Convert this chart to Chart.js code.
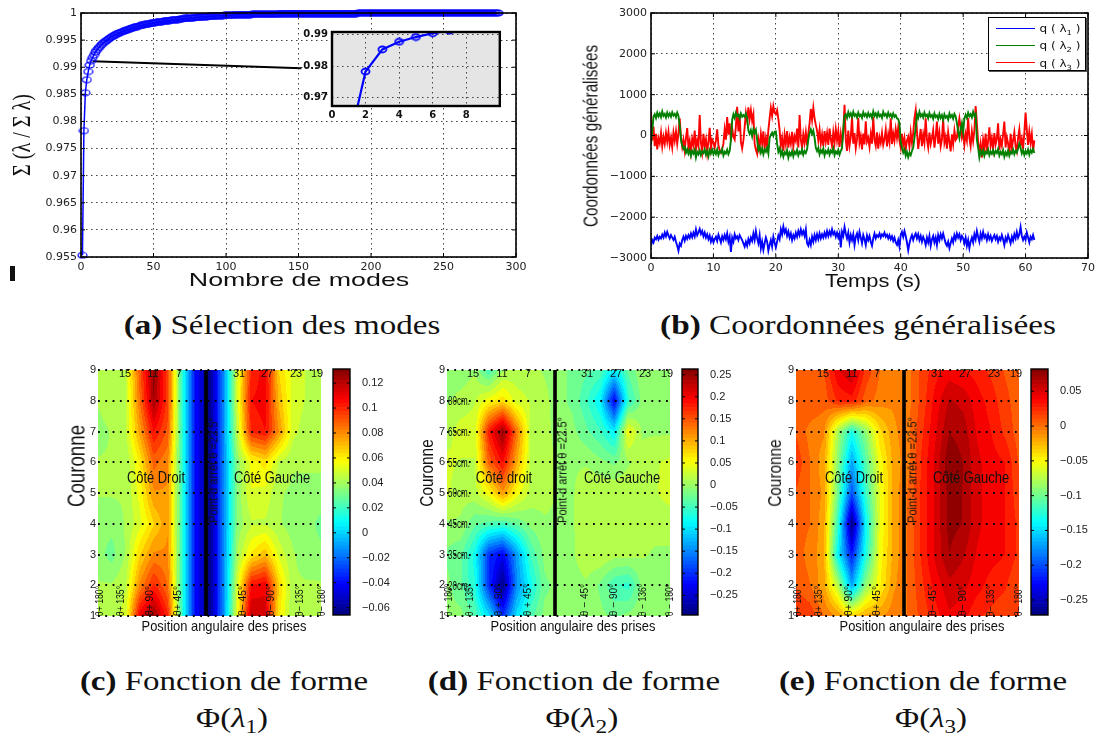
<!DOCTYPE html>
<html><head><meta charset="utf-8">
<style>html,body{margin:0;padding:0;background:#fff;width:1099px;height:737px;overflow:hidden}
canvas{position:absolute;display:block}
.t{position:absolute;white-space:nowrap;line-height:1;color:#111;z-index:5;transform-origin:center center}
.t sub{font-size:.7em;line-height:0}
</style>
<script src="https://cdn.jsdelivr.net/npm/chart.js@4/dist/chart.umd.min.js"></script>
</head><body>
<script>
// ---------- DATA ----------
const cumulativeEnergy=[
.9553,.9783,.9853,.9877,.9892,.9904,.9912,.9918,.9923,.9928,
.9932,.9935,.9938,.9941,.9944,.9946,.9948,.9950,.9952,.9954,
.9956,.9957,.9959,.9960,.9962,.9963,.9964,.9965,.9966,.9967,
.9968,.9969,.9970,.9971,.9972,.9973,.9974,.9975,.9975,.9976,
.9977,.9977,.9978,.9979,.9979,.9980,.9980,.9981,.9981,.9982,
.9982,.9983,.9983,.9984,.9984,.9984,.9985,.9985,.9986,.9986,
.9986,.9987,.9987,.9987,.9988,.9988,.9988,.9989,.9989,.9989,
.9990,.9990,.9990,.9990,.9991,.9991,.9991,.9991,.9992,.9992,
.9992,.9992,.9993,.9993,.9993,.9993,.9993,.9994,.9994,.9994,
.9994,.9994,.9995,.9995,.9995,.9995,.9995,.9995,.9996,.9996,
.9996,.9996,.9996,.9996,.9996,.9997,.9997,.9997,.9997,.9997,
.9997,.9997,.9997,.9997,.9997,.9997,.9997,.9998,.9998,.9998,
.9998,.9998,.9998,.9998,.9998,.9998,.9998,.9998,.9998,.9998,
.9998,.9998,.9998,.9998,.9998,.9998,.9999,.9999,.9999,.9999,
.9999,.9999,.9999,.9999,.9999,.9999,.9999,.9999,.9999,.9999,
.9999,.9999,.9999,.9999,.9999,.9999,.9999,.9999,.9999,.9999,
.9999,.9999,.9999,.9999,.9999,.9999,.9999,.9999,.9999,.9999,
.9999,.9999,.9999,.9999,.9999,.9999,.9999,.9999,.9999,.9999,
.9999,.9999,.9999,.9999,.9999,.9999,.9999,.9999,.9999,.9999,
1,1,1,1,1,1,1,1,1,1,1,1,1,1,1,1,1,1,1,1,
1,1,1,1,1,1,1,1,1,1,1,1,1,1,1,1,1,1,1,1,
1,1,1,1,1,1,1,1,1,1,1,1,1,1,1,1,1,1,1,1,
1,1,1,1,1,1,1,1,1,1,1,1,1,1,1,1,1,1,1,1,
1,1,1,1,1,1,1,1,1,1,1,1,1,1,1,1,1,1];
const leaderModes=[8,152];
const leaderValues=[.9911,.9898];
const aTicksX=[0,50,100,150,200,250,300];
const aTicksY=[.955,.96,.965,.97,.975,.98,.985,.99,.995,1];
const insetTicksX=[0,2,4,6,8];
const insetTicksY=[.97,.98,.99];

const timeStep=0.2;
const qLambda1=[
-2700,-2560,-2620,-2500,-2540,-2460,-2550,-2480,-2520,-2430,-2500,-2380,-2470,-2360,-2450,-2520,-2440,-2500,-2560,-2480,-2600,-2700,-2820,-2650,-2700,
-2560,-2480,-2580,-2460,-2530,-2440,-2510,-2400,-2490,-2380,-2470,-2300,-2440,-2370,-2290,-2410,-2340,-2470,-2380,-2500,-2420,-2540,-2450,-2600,-2500,
-2620,-2540,-2480,-2580,-2430,-2520,-2620,-2470,-2560,-2440,-2540,-2400,-2600,-2480,-2850,-2500,-2600,-2420,-2520,-2470,-2560,-2440,-2500,-2560,-2640,
-2720,-2600,-2700,-2540,-2640,-2500,-2580,-2400,-2560,-2340,-2520,-2640,-2440,-2760,-2600,-2800,-2640,-2500,-2600,-2820,-2680,-2560,-2720,-2480,-2620,
-2740,-2600,-2450,-2540,-2300,-2420,-2230,-2380,-2300,-2460,-2350,-2500,-2400,-2560,-2440,-2520,-2380,-2480,-2340,-2440,-2300,-2420,-2340,-2460,-2300,
-2640,-2700,-2560,-2680,-2480,-2600,-2440,-2560,-2420,-2540,-2400,-2520,-2420,-2500,-2380,-2480,-2340,-2460,-2350,-2440,-2300,-2420,-2360,-2480,-2380,
-2500,-2400,-2740,-2360,-2460,-2240,-2400,-2520,-2380,-2620,-2440,-2560,-2420,-2680,-2480,-2400,-2560,-2360,-2500,-2640,-2440,-2540,-2680,-2450,-2560,
-2460,-2600,-2700,-2520,-2400,-2520,-2440,-2480,-2400,-2500,-2420,-2460,-2380,-2480,-2430,-2520,-2440,-2540,-2470,-2580,-2500,-2620,-2680,-2560,-2720,
-2440,-2360,-2480,-2340,-2460,-2620,-2810,-2640,-2520,-2440,-2560,-2460,-2400,-2520,-2420,-2560,-2460,-2600,-2480,-2560,-2680,-2500,-2620,-2460,-2700,
-2540,-2460,-2620,-2500,-2680,-2440,-2560,-2420,-2520,-2400,-2520,-2640,-2700,-2600,-2760,-2640,-2520,-2620,-2440,-2540,-2400,-2500,-2420,-2560,-2460,
-2520,-2640,-2500,-2700,-2560,-2760,-2600,-2500,-2620,-2420,-2540,-2340,-2480,-2600,-2400,-2520,-2360,-2500,-2440,-2560,-2420,-2540,-2460,-2580,-2500,
-2440,-2540,-2460,-2600,-2500,-2560,-2440,-2540,-2680,-2500,-2580,-2440,-2540,-2640,-2480,-2580,-2420,-2520,-2360,-2500,-2420,-2240,-2460,-2560,-2480,
-2560,-2380,-2500,-2620,-2480,-2540,-2440,-2560];
const qLambda2=[
-200,120,460,520,430,560,470,540,450,590,480,530,440,560,470,540,460,570,490,530,450,560,480,250,-100,
-250,-330,-280,-420,-340,-450,-360,-500,-380,-440,-350,-540,-400,-460,-360,-480,-390,-430,-340,-470,-380,-510,-360,-440,-350,
-460,-370,-450,-340,-480,-390,-420,-330,-490,-400,-440,-350,-460,-380,-120,380,520,430,560,470,510,420,540,460,500,
460,540,430,120,40,130,-20,150,60,140,-100,-360,-280,-420,-320,-460,-340,-400,-300,-440,-60,20,70,-10,90,
100,-200,-400,-320,-480,-380,-520,-410,-460,-360,-540,-420,-480,-380,-510,-400,-450,-350,-490,-400,-440,-340,-470,-380,-430,
-340,-100,60,150,40,120,-50,-300,-380,-300,-460,-360,-420,-320,-490,-380,-430,-340,-470,-370,-420,-310,-480,-390,-440,
-350,-470,-380,-300,150,480,520,430,570,470,540,450,580,480,520,440,560,470,510,430,570,480,530,450,550,
470,520,430,590,480,540,450,560,470,510,430,580,490,530,450,560,470,520,440,540,460,500,420,400,300,
-150,-300,-420,-340,-500,-400,-530,-420,-480,-380,-300,-60,200,520,430,580,470,520,440,560,470,510,420,550,460,
500,410,540,450,490,400,530,430,500,380,520,440,480,390,540,450,500,410,530,470,300,100,-60,150,300,
80,420,510,430,560,470,520,440,580,480,530,-100,-300,-540,-380,-460,-360,-500,-400,-440,-340,-480,-390,-450,-360,
-470,-380,-430,-330,-490,-400,-460,-360,-520,-410,-480,-370,-500,-400,-440,-340,-460,-380,-420,-320,-200,-300,-440,-360,-480,
-380,-440,-340,-470,-360,-420,-330,-430];
const qLambda3=[
580,-120,220,-260,40,-340,-70,-190,70,-270,-30,-200,60,-150,90,-230,-50,-290,70,-130,100,-200,60,420,-50,
-280,-100,-360,-60,180,-300,-130,-400,-80,-230,120,-340,-120,-260,500,-180,-400,40,-260,-90,-420,-150,190,-310,-100,
-170,-300,-120,150,-240,-360,-420,-330,-200,150,-100,450,20,300,-130,180,-30,-100,230,700,100,520,-150,-320,-120,
200,550,350,690,400,620,360,520,-200,-350,-450,-100,-300,40,-200,100,-330,-60,-250,130,420,680,480,720,560,
520,620,410,130,-250,-60,-380,20,-210,110,-300,-40,-200,90,-270,-20,-130,170,-290,500,-100,-310,30,-180,80,
-240,60,300,650,380,680,420,260,120,-120,140,-200,20,-260,110,-150,60,-230,170,-90,-260,80,-180,150,-120,
110,-280,40,-200,70,750,-100,-380,120,-250,-40,460,-200,60,-310,-90,430,-180,-20,-340,50,-220,350,-150,-60,
-280,30,-200,450,-100,-250,80,-320,-40,-180,60,-230,-90,140,-270,30,-160,420,-210,50,-130,160,-60,200,-130,
-300,40,-240,-60,-350,-120,-30,-280,80,-180,60,420,620,100,-330,-90,160,-260,20,-180,420,-100,-290,70,-210,
-60,130,-300,-20,340,-200,60,-270,-100,400,-180,-30,-320,80,-150,-390,30,-210,120,-110,-60,230,420,180,-50,
90,-230,40,-120,430,-60,-260,100,-140,120,720,300,-160,-420,-200,-540,-100,-300,50,-380,-130,200,-260,-70,-320,
60,-220,-80,300,-350,-100,-250,30,340,-290,-40,-200,-460,40,-300,-120,80,-270,-390,-60,150,-230,-80,-330,60,
560,140,-230,100,-170,40,-400,-120];
const bTicksX=[0,10,20,30,40,50,60,70];
const bTicksY=[-3000,-2000,-1000,0,1000,2000,3000];
const seriesNames=['q ( λ<sub>1</sub> )','q ( λ<sub>2</sub> )','q ( λ<sub>3</sub> )'];
const seriesColors=['#0000ff','#008000','#ff0000'];

const couronneTicks=[1,2,3,4,5,6,7,8,9];
const stopColumn=7.75;
// rows from couronne 9 (top) down to couronne 1, 17 angular columns
const shapeLambda1=[
[.04,.04,.045,.09,.128,.095,.02,-.04,-.065,-.015,.05,.1,.108,.065,.05,.045,.04],
[.04,.045,.045,.085,.125,.095,.02,-.04,-.065,-.015,.05,.105,.108,.07,.05,.045,.04],
[.036,.04,.045,.075,.105,.09,.02,-.04,-.065,-.015,.045,.1,.105,.078,.048,.042,.04],
[.04,.04,.04,.06,.088,.08,.02,-.04,-.065,-.015,.035,.055,.062,.045,.04,.04,.04],
[.04,.04,.04,.055,.078,.078,.02,-.04,-.065,-.015,.035,.052,.05,.04,.038,.038,.038],
[.035,.035,.04,.05,.065,.078,.02,-.04,-.065,-.015,.035,.045,.045,.04,.036,.036,.03],
[.035,.03,.04,.065,.08,.08,.02,-.04,-.065,-.015,.04,.06,.07,.05,.04,.036,.035],
[.04,.04,.045,.08,.1,.085,.02,-.04,-.065,-.015,.05,.105,.11,.065,.04,.04,.04],
[.04,.04,.05,.11,.128,.1,.02,-.04,-.065,-.015,.055,.12,.115,.06,.04,.04,.04]];
const shapeLambda2=[
[-.01,-.01,0,-.05,0,.01,.01,0,-.01,-.02,-.03,-.04,-.09,-.03,0,0,0],
[0,.01,.02,.05,.07,.03,.02,.01,-.01,-.02,-.05,-.09,-.23,-.06,-.01,0,0],
[.015,.03,.03,.18,.255,.13,.02,.01,-.005,-.01,-.03,-.05,-.09,.05,0,0,0],
[.025,.02,.02,.14,.19,.1,.02,.01,0,0,0,-.01,-.02,0,.01,.02,.025],
[.025,.01,.015,.05,.11,.05,.015,.01,0,0,.02,.02,.02,.02,.02,.02,.03],
[0,0,-.03,-.04,-.05,-.03,-.01,0,0,0,.02,.02,.02,.015,.01,.01,.01],
[-.02,-.03,-.08,-.2,-.23,-.14,-.05,-.01,0,0,.015,.02,.01,.01,.005,0,0],
[-.01,-.03,-.07,-.2,-.29,-.15,-.08,-.02,-.01,-.005,0,-.02,-.05,-.06,-.01,0,0],
[-.01,-.01,-.04,-.1,-.2,-.1,-.04,-.01,-.01,0,0,-.01,-.02,-.01,0,0,0]];
const shapeLambda3=[
[.005,.01,.01,.045,.06,.02,0,-.01,-.005,.015,.03,.04,.035,.03,.02,.01,.005],
[.01,.01,.005,.025,.03,.005,-.005,-.01,-.005,.015,.04,.06,.055,.04,.03,.015,.005],
[.01,-.005,-.01,-.08,-.13,-.09,-.04,-.015,-.005,.02,.045,.07,.065,.045,.035,.02,.005],
[.02,0,-.02,-.09,-.17,-.11,-.055,-.02,-.005,.025,.05,.08,.07,.05,.04,.035,.01],
[.01,0,-.015,-.1,-.2,-.12,-.06,-.02,0,.025,.05,.075,.07,.05,.04,.035,.015],
[.005,0,-.02,-.12,-.27,-.14,-.06,-.02,0,.025,.05,.075,.07,.05,.04,.035,.02],
[.005,-.005,-.02,-.14,-.22,-.13,-.055,-.02,0,.025,.05,.07,.06,.045,.04,.035,.02],
[.01,0,-.02,-.075,-.17,-.09,-.05,-.015,0,.02,.04,.055,.05,.04,.03,.025,.01],
[.025,.02,0,-.015,-.035,-.02,-.015,-.005,0,.015,.03,.045,.04,.025,.02,.015,.015]];
const rangeLambda1=[-.0659,.1313];
const rangeLambda2=[-.2946,.263];
const rangeLambda3=[-.2716,.0821];
const cbTicks1=[-.06,-.04,-.02,0,.02,.04,.06,.08,.1,.12];
const cbTicks2=[-.25,-.2,-.15,-.1,-.05,0,.05,.1,.15,.2,.25];
const cbTicks3=[-.25,-.2,-.15,-.1,-.05,0,.05];
const sensorLabels=['15','11','7','31','27','23','19'];
const depthLabels=['80cm.','65cm.','55cm.','50cm.','45cm.','35cm.','20cm.'];

// ---------- HELPERS ----------
Chart.defaults.animation=false;
Chart.defaults.responsive=false;
Chart.defaults.plugins.legend.display=false;
Chart.defaults.plugins.tooltip.enabled=false;
const WIDE='"DejaVu Sans"', NARROW='"Liberation Sans Narrow","Liberation Sans"', SANS='"Liberation Sans"', SERIF='"Liberation Serif"';
function clamp(v){return Math.max(0,Math.min(1,v));}
function jet(t){return [clamp(1.5-Math.abs(4*t-3)),clamp(1.5-Math.abs(4*t-2)),clamp(1.5-Math.abs(4*t-1))].map(v=>Math.round(v*255));}
function fmt(v){return String(+v.toFixed(4)).replace('-','−');}
function setTicks(list){return a=>{a.ticks=list.map(v=>({value:v}));};}
function fit(px){return s=>{if(s.isHorizontal())s.height=px;else s.width=px;};}
function place(plot,m){
  const c=document.createElement('canvas');
  const w=plot.r-plot.l+m.l+m.r,h=plot.b-plot.t+m.t+m.b;
  c.width=w;c.height=h;c.style.left=(plot.l-m.l)+'px';c.style.top=(plot.t-m.t)+'px';c.style.width=w+'px';c.style.height=h+'px';
  document.body.appendChild(c);return c;
}
function label(html,cx,cy,o){
  const d=document.createElement('div');d.className='t';d.innerHTML=html;
  d.style.font=o.font;d.style.left=cx+'px';d.style.top=cy+'px';if(o.color)d.style.color=o.color;
  document.body.appendChild(d);
  const k=o.w?o.w/d.offsetWidth:1;
  d.style.transform='translate(-50%,-50%) rotate('+(o.rot||0)+'deg) scaleX('+k+')';
  return d;
}
function frame(lw,inner,bg){return {id:'frame',
  beforeDraw(ch){if(!bg)return;const a=ch.chartArea,x=ch.ctx;x.save();x.fillStyle=bg;x.fillRect(a.left,a.top,a.width,a.height);x.restore();},
  afterDraw(ch){const a=ch.chartArea,x=ch.ctx;x.save();x.strokeStyle='#000';x.lineWidth=lw;x.strokeRect(a.left,a.top,a.width,a.height);
    if(inner){x.lineWidth=1;x.beginPath();
      if(ch.scales.y)ch.scales.y.ticks.forEach(t=>{const p=ch.scales.y.getPixelForValue(t.value);x.moveTo(a.left,p);x.lineTo(a.left+inner,p);x.moveTo(a.right,p);x.lineTo(a.right-inner,p);});
      if(ch.scales.x&&ch.scales.x.type==='linear')ch.scales.x.ticks.forEach(t=>{const p=ch.scales.x.getPixelForValue(t.value);x.moveTo(p,a.top);x.lineTo(p,a.top+inner);x.moveTo(p,a.bottom);x.lineTo(p,a.bottom-inner);});
      x.stroke();}
    x.restore();}};}
function ring(w,h,lw,color){const c=document.createElement('canvas');c.width=w+lw*2;c.height=h+lw*2;const x=c.getContext('2d');
  x.strokeStyle=color;x.lineWidth=lw;x.beginPath();x.ellipse(c.width/2,c.height/2,w/2,h/2,0,0,Math.PI*2);x.stroke();return c;}
const dotted={color:'#444',lineWidth:1,drawTicks:false};
const dottedBorder={display:false,dash:[1.5,3.5]};

// ---------- (a) ----------
const modes=cumulativeEnergy.map((_,i)=>i+1);
const modePts=modes.map((m,i)=>({x:m,y:cumulativeEnergy[i]}));
new Chart(place({l:81,t:13,r:516,b:257},{l:81,t:13,r:24,b:28}),{type:'scatter',
 data:{datasets:[
  {label:'Σ(λ/Σλ)',data:modePts,showLine:true,borderColor:'#0000ff',borderWidth:1.5,pointStyle:ring(9,6,1.2,'#0000ff'),pointRadius:3,clip:false},
  {label:'zoom',data:leaderModes.map((m,i)=>({x:m,y:leaderValues[i]})),showLine:true,borderColor:'#000',borderWidth:2,pointRadius:0,clip:false}]},
 options:{layout:{padding:{top:13,right:24}},
  scales:{
   x:{type:'linear',min:0,max:300,afterBuildTicks:setTicks(aTicksX),afterFit:fit(28),grid:dotted,border:dottedBorder,
      ticks:{color:'#222',padding:4,maxRotation:0,autoSkip:false,font:{family:WIDE,size:11},callback:fmt}},
   y:{type:'linear',min:.955,max:1,afterBuildTicks:setTicks(aTicksY),afterFit:fit(81),grid:dotted,border:dottedBorder,
      ticks:{color:'#222',padding:4,autoSkip:false,font:{family:WIDE,size:11},callback:fmt}}}},
 plugins:[frame(1.6,4)]});
// inset
new Chart(place({l:332,t:32,r:500,b:106},{l:36,t:12,r:6,b:20}),{type:'scatter',
 data:{datasets:[{label:'zoom',data:modePts.slice(0,7),showLine:true,borderColor:'#0000ff',borderWidth:2.2,pointStyle:ring(8,6,1.8,'#0000ff'),pointRadius:3}]},
 options:{layout:{padding:{top:12,right:6}},
  scales:{
   x:{type:'linear',min:0,max:10,afterBuildTicks:setTicks(insetTicksX),afterFit:fit(20),grid:dotted,border:dottedBorder,
      ticks:{color:'#111',padding:3,maxRotation:0,autoSkip:false,font:{family:WIDE,size:10,weight:'bold'},callback:fmt}},
   y:{type:'linear',min:.9674,max:.9908,afterBuildTicks:setTicks(insetTicksY),afterFit:fit(36),grid:dotted,border:dottedBorder,
      ticks:{color:'#111',padding:4,autoSkip:false,font:{family:WIDE,size:10,weight:'bold'},callback:fmt}}}},
 plugins:[frame(2.4,0,'#e5e5e5')]});
label('Σ (λ / Σ λ)',22,135,{font:'25px "Liberation Serif"',rot:-90,w:82});
label('Nombre de modes',298.5,280,{font:'19px '+SANS,w:220});
const bar=document.createElement('div');bar.style.cssText='position:absolute;left:10px;top:266px;width:5px;height:15px;background:#111';document.body.appendChild(bar);

// ---------- (b) ----------
const toPts=a=>a.map((v,i)=>({x:i*timeStep,y:v}));
new Chart(place({l:651,t:13,r:1092,b:258},{l:60,t:13,r:7,b:28}),{type:'scatter',
 data:{datasets:[qLambda1,qLambda2,qLambda3].map((a,i)=>({label:'q'+(i+1),data:toPts(a),showLine:true,borderColor:seriesColors[i],borderWidth:1.9,pointRadius:0}))},
 options:{layout:{padding:{top:13,right:7}},
  scales:{
   x:{type:'linear',min:0,max:70,afterBuildTicks:setTicks(bTicksX),afterFit:fit(28),grid:dotted,border:dottedBorder,
      ticks:{color:'#222',padding:4,maxRotation:0,autoSkip:false,font:{family:WIDE,size:11},callback:fmt}},
   y:{type:'linear',min:-3000,max:3000,afterBuildTicks:setTicks(bTicksY),afterFit:fit(60),grid:dotted,border:dottedBorder,
      ticks:{color:'#222',padding:4,autoSkip:false,font:{family:WIDE,size:11},callback:fmt}}}},
 plugins:[frame(1.6,4)]});
label('Temps (s)',873,281,{font:'18px '+SANS,w:96});
label('Coordonnées généralisées',591,136,{font:'20px '+SANS,rot:-90,w:182});
const lg=document.createElement('div');lg.style.cssText='position:absolute;left:988px;top:17px;width:96px;height:52px;background:#fff;border:1.5px solid #000;box-shadow:1px 1px 0 #555;z-index:4';document.body.appendChild(lg);
seriesNames.forEach((n,i)=>{
  const l=document.createElement('div');l.style.cssText='position:absolute;z-index:5;left:996px;width:39px;height:1.4px;top:'+(27.5+i*17.3)+'px;background:'+seriesColors[i];document.body.appendChild(l);
  label(n,1060,28+i*17.3,{font:'10px '+WIDE,w:41});
});

// ---------- (c,d,e) ----------
function heatPlugin(rows,range){return {id:'heat',beforeDatasetsDraw(ch){
  const a=ch.chartArea,W=Math.round(a.width),H=Math.round(a.height),X=ch.scales.x,Y=ch.scales.y;
  const off=document.createElement('canvas');off.width=W;off.height=H;const x=off.getContext('2d');const img=x.createImageData(W,H);
  const levels=30;
  for(let j=0;j<H;j++){const yv=Y.getValueForPixel(a.top+j+.5);const r=Math.min(7.999,Math.max(0,9-yv));const r0=Math.floor(r),fr=r-r0;
    for(let i=0;i<W;i++){const xv=X.getValueForPixel(a.left+i+.5);const c=Math.min(15.999,Math.max(0,xv));const c0=Math.floor(c),fc=c-c0;
      const v=(rows[r0][c0]*(1-fc)+rows[r0][c0+1]*fc)*(1-fr)+(rows[r0+1][c0]*(1-fc)+rows[r0+1][c0+1]*fc)*fr;
      let t=(v-range[0])/(range[1]-range[0]);t=(Math.floor(clamp(t)*levels*.9999)+.5)/levels;
      const col=jet(t),k=(j*W+i)*4;img.data[k]=col[0];img.data[k+1]=col[1];img.data[k+2]=col[2];img.data[k+3]=255;}}
  x.putImageData(img,0,0);ch.ctx.drawImage(off,a.left,a.top);
}};}
function heatChart(plot,rows,range){
  const knots=[];rows.forEach((row,r)=>row.forEach((v,c)=>knots.push({x:c,y:9-r,v:v})));
  new Chart(place(plot,{l:20,t:12,r:4,b:12}),{type:'scatter',
   data:{datasets:[
    {label:'cells',data:knots,pointRadius:0,showLine:false},
    {label:'stop',data:[{x:stopColumn,y:1},{x:stopColumn,y:9}],showLine:true,borderColor:'#000',borderWidth:3.6,pointRadius:0}]},
   options:{layout:{padding:{top:12,right:4}},
    scales:{
     x:{type:'linear',min:0,max:16,display:true,afterFit:fit(12),grid:{display:false},border:{display:false},ticks:{display:false}},
     y:{type:'linear',min:1,max:9,afterBuildTicks:setTicks(couronneTicks),afterFit:fit(20),
        grid:{color:'#000',lineWidth:2,drawTicks:false,z:1},border:{display:false,dash:[1.8,5.5]},
        ticks:{color:'#222',padding:2,autoSkip:false,font:{family:NARROW,size:11},callback:fmt}}}},
   plugins:[heatPlugin(rows,range)]});
}
function colorbar(plot,range,ticks){
  const n=64,sets=[];
  for(let i=0;i<n;i++){const lo=range[0]+(range[1]-range[0])*i/n,hi=range[0]+(range[1]-range[0])*(i+1)/n,c=jet((i+.5)/n);
    sets.push({label:'l'+i,data:[[lo,hi]],backgroundColor:'rgb('+c+')',borderWidth:0,grouped:false,barPercentage:1,categoryPercentage:1});}
  new Chart(place(plot,{l:2,t:12,r:44,b:12}),{type:'bar',
   data:{labels:['cb'],datasets:sets},
   options:{layout:{padding:{top:12,left:2}},
    scales:{
     x:{afterFit:fit(12),grid:{display:false},border:{display:false},ticks:{display:false}},
     y:{type:'linear',position:'right',min:range[0],max:range[1],afterBuildTicks:setTicks(ticks),afterFit:fit(44),
        grid:{display:false},border:{display:false},
        ticks:{color:'#222',padding:4,autoSkip:false,font:{family:NARROW,size:11},callback:fmt}}}},
   plugins:[frame(1.4,3)]});
}
heatChart({l:98,t:370,r:321,b:616},shapeLambda1,rangeLambda1);
colorbar({l:333,t:369,r:350,b:615},rangeLambda1,cbTicks1);
heatChart({l:447,t:370,r:670,b:616},shapeLambda2,rangeLambda2);
colorbar({l:682,t:369,r:698,b:615},rangeLambda2,cbTicks2);
heatChart({l:796,t:370,r:1019,b:616},shapeLambda3,rangeLambda3);
colorbar({l:1031,t:369,r:1048,b:615},rangeLambda3,cbTicks3);

const nf=s=>s+'px '+NARROW;
function annotate(o){
  sensorLabels.forEach((s,i)=>label(s,o.sensors[i],373,{font:nf(11)}));
  const ang=o.angleText;
  o.angles.forEach((x,i)=>label(ang[i],x,o.angleY,{font:nf(11),rot:-90,w:o.angleW}));
  label(o.droit,o.dx,478,{font:nf(16),w:o.dw});
  label('Côté Gauche',o.gx,478,{font:nf(16),w:76});
  label('Point-d arrêt θ =22.5°',o.px,470,{font:nf(13),rot:-90,w:106});
  label('Position angulaire des prises',o.xl,625,{font:nf(15),w:165});
  label('Couronne',o.cx,o.cy,{font:o.cf+'px '+SANS,rot:-90,w:o.cw});
}
annotate({sensors:[125,153,179,239,267,296,317],angles:[99,120,149,177,242,270,299,321],angleY:601,angleW:30,
 angleText:['θ+ 180°','θ+ 135°','θ+ 90°','θ+ 45°','θ− 45°','θ− 90°','θ− 135°','θ− 180°'],
 droit:'Côté Droit',dx:156,dw:58,gx:272,px:213,xl:224,cx:77,cy:466,cw:82,cf:23});
annotate({sensors:[473,502,528,587,616,645,667],angles:[448,469,498,527,584,613,642,669],angleY:600,angleW:32,
 angleText:['θ + 180°','θ + 135°','θ + 90°','θ + 45°','θ − 45°','θ − 90°','θ − 136°','θ − 180°'],
 droit:'Côté droit',dx:504,dw:56,gx:622,px:562,xl:573,cx:427,cy:473,cw:67,cf:19});
annotate({sensors:[823,852,877,937,965,994,1016],angles:[797,818,848,876,932,962,990,1018],angleY:601,angleW:30,
 angleText:['θ+ 180°','θ+ 135°','θ+ 90°','θ+ 45°','θ− 45°','θ− 90°','θ− 135°','θ− 180°'],
 droit:'Côté Droit',dx:854,dw:58,gx:971,px:912,xl:922,cx:775,cy:473,cw:67,cf:19});
depthLabels.forEach((s,i)=>label(s,459,401+i*30.75,{font:nf(12),w:22}));

// ---------- captions ----------
const cap=(h,x0,x1,y)=>label(h,(x0+x1)/2,y,{font:'27px '+SERIF,w:x1-x0});
cap('<b>(a)</b> Sélection des modes',123,440,325);
cap('<b>(b)</b> Coordonnées généralisées',660,1056,325);
cap('<b>(c)</b> Fonction de forme',80,368,681);
cap('<b>(d)</b> Fonction de forme',428,720,681);
cap('<b>(e)</b> Fonction de forme',779,1067,681);
cap('Φ(<i>λ</i><sub>1</sub>)',196,268,718);
cap('Φ(<i>λ</i><sub>2</sub>)',545,618,718);
cap('Φ(<i>λ</i><sub>3</sub>)',895,967,718);
</script>
</body></html>
